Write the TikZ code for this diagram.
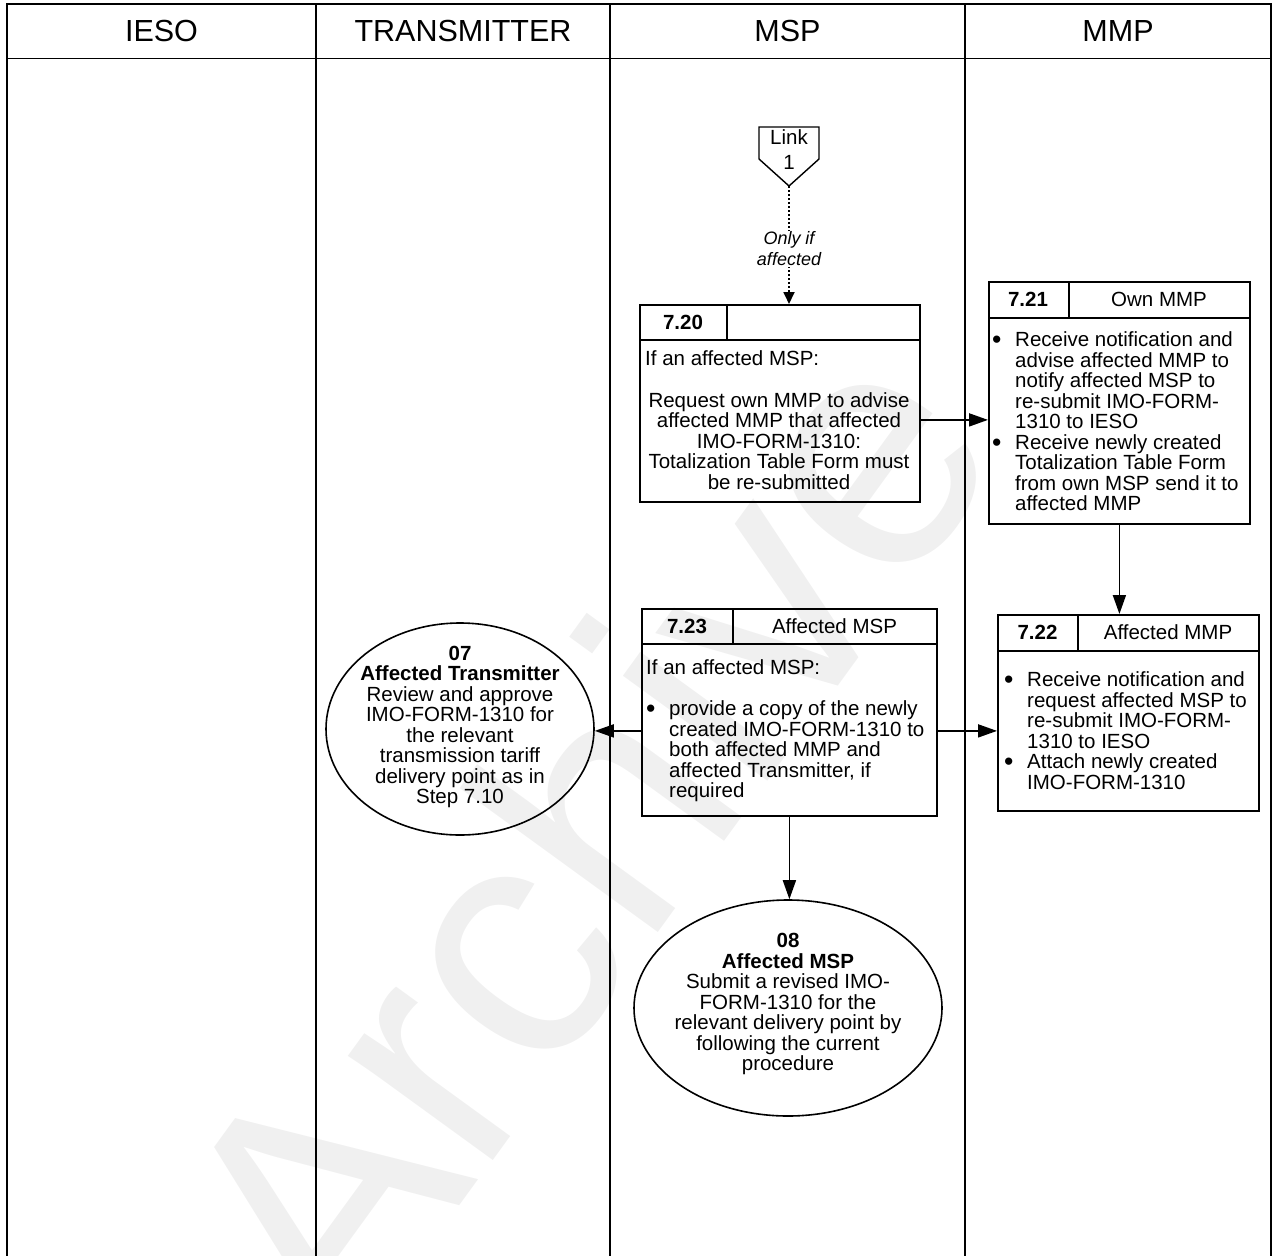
\documentclass[tikz,border=0pt]{standalone}
\usepackage{fontspec}
\setmainfont{Liberation Sans}
\usetikzlibrary{arrows.meta,shapes.geometric}
\newcommand{\bodyfont}{\fontsize{20.5}{20.5}\selectfont}
\newcommand{\bu}{\makebox[23pt][l]{\raisebox{-2pt}{\scalebox{1.3}{\textbullet}}}}
\newcommand{\ind}{\hspace*{23pt}}
\begin{document}
\begin{tikzpicture}[x=1pt,y=-1pt,
  lane/.style={line width=1.9pt},
  lanehead/.style={font=\fontsize{30.5}{30.5}\selectfont, inner sep=0pt},
  stepbox/.style={draw, line width=1.8pt, anchor=north west, inner sep=0pt},
  cell/.style={line width=1.8pt},
  hd/.style={font=\bodyfont, inner sep=0pt},
  txt/.style={font=\bodyfont, inner sep=0pt},
  term/.style={draw, ellipse, line width=1.6pt, inner sep=0pt},
  arr/.style={line width=1.8pt, -{Triangle[length=19pt,width=13pt]}},
  darr/.style={line width=1.8pt, dash pattern=on 2pt off 2pt, -{Triangle[length=12pt,width=11pt]}},
  wmark/.style={text=black!6, font=\fontsize{338}{338}\selectfont, inner sep=0pt}]
\useasboundingbox (0,0) rectangle (1279,1255);
% watermark
\node[wmark, rotate=54] (wm) at (580,835) {Archive};
% swimlanes
\draw[lane] (7,1257) -- (7,4) -- (1271,4) -- (1271,1257);
\draw[lane] (7,58.5) -- (1271,58.5);
\draw[lane] (316,4) -- (316,1257);
\draw[lane] (610,4) -- (610,1257);
\draw[lane] (965,4) -- (965,1257);
\node[lanehead] (hIESO) at (161.5,31) {IESO};
\node[lanehead] (hTR) at (463,31) {TRANSMITTER};
\node[lanehead] (hMSP) at (787.5,31) {MSP};
\node[lanehead] (hMMP) at (1118,31) {MMP};
% Link 1
\coordinate (linktip) at (789,186);
\draw[line width=1.4pt] (759,127) -- (819,127) -- (819,159) -- (linktip) -- (759,159) -- cycle;
\node[align=center, font=\fontsize{20.5}{25}\selectfont, inner sep=0pt] (linkt) at (789,149.5) {Link\\1};
% 7.20
\node[stepbox, minimum width=280pt, minimum height=197pt] (b720) at (639,304) {};
\draw[cell] ([yshift=-36pt]b720.north west) -- ([yshift=-36pt]b720.north east);
\draw[cell] ([xshift=88pt]b720.north west) -- ([xshift=88pt,yshift=-36pt]b720.north west);
\node[hd] (h720) at (683,322) {\textbf{7.20}};
\node[txt, anchor=west] (t720a) at (645,358) {If an affected MSP:};
\node[txt, align=center] (t720b) at (779,441) {Request own MMP to advise\\affected MMP that affected\\IMO-FORM-1310:\\Totalization Table Form must\\be re-submitted};
% 7.21
\node[stepbox, minimum width=261pt, minimum height=242pt] (b721) at (988,281) {};
\draw[cell] ([yshift=-37pt]b721.north west) -- ([yshift=-37pt]b721.north east);
\draw[cell] ([xshift=81pt]b721.north west) -- ([xshift=81pt,yshift=-37pt]b721.north west);
\node[hd] (h721) at (1028,299.5) {\textbf{7.21}};
\node[hd] (h721b) at (1159,299.5) {Own MMP};
\node[txt, align=left, anchor=west] (t721) at (992,421.5) {\bu Receive notification and\\\ind advise affected MMP to\\\ind notify affected MSP to\\\ind re-submit IMO-FORM-\\\ind 1310 to IESO\\\bu Receive newly created\\\ind Totalization Table Form\\\ind from own MSP send it to\\\ind affected MMP};
% 7.22
\node[stepbox, minimum width=261pt, minimum height=196pt] (b722) at (997,614) {};
\draw[cell] ([yshift=-37pt]b722.north west) -- ([yshift=-37pt]b722.north east);
\draw[cell] ([xshift=81pt]b722.north west) -- ([xshift=81pt,yshift=-37pt]b722.north west);
\node[hd] (h722) at (1037.5,632.5) {\textbf{7.22}};
\node[hd] (h722b) at (1168,632.5) {Affected MMP};
\node[txt, align=left, anchor=west] (t722) at (1004,730.5) {\bu Receive notification and\\\ind request affected MSP to\\\ind re-submit IMO-FORM-\\\ind 1310 to IESO\\\bu Attach newly created\\\ind IMO-FORM-1310};
% 7.23
\node[stepbox, minimum width=295pt, minimum height=207pt] (b723) at (641,608) {};
\draw[cell] ([yshift=-36pt]b723.north west) -- ([yshift=-36pt]b723.north east);
\draw[cell] ([xshift=92pt]b723.north west) -- ([xshift=92pt,yshift=-36pt]b723.north west);
\node[hd] (h723) at (687,626) {\textbf{7.23}};
\node[hd] (h723b) at (834.5,626) {Affected MSP};
\node[txt, align=left, anchor=west] (t723) at (646,731) {If an affected MSP:\\[20.5pt]\bu provide a copy of the newly\\\ind created IMO-FORM-1310 to\\\ind both affected MMP and\\\ind affected Transmitter, if\\\ind required};
% terminators
\node[term, minimum width=268pt, minimum height=212pt] (e07) at (460,729) {};
\node[txt, align=center] (t07) at (460,727) {\textbf{07}\\\textbf{Affected Transmitter}\\Review and approve\\IMO-FORM-1310 for\\the relevant\\transmission tariff\\delivery point as in\\Step 7.10};
\node[term, minimum width=308pt, minimum height=216pt] (e08) at (788,1008) {};
\node[txt, align=center] (t08) at (788,1004) {\textbf{08}\\\textbf{Affected MSP}\\Submit a revised IMO-\\FORM-1310 for the\\relevant delivery point by\\following the current\\procedure};
% connectors
\draw[darr] (linktip) -- (linktip |- b720.north);
\node[align=center, font=\fontsize{18}{21}\selectfont\itshape, fill=white, inner sep=1pt] (lbl) at (789,249) {Only if\\affected};
\draw[arr] ([yshift=-16.5pt]b720.east) -- ([yshift=-16.5pt]b720.east -| b721.west);
\draw[arr] (b721.south) -- (b721.south |- b722.north);
\draw[arr] ([yshift=-18.5pt]b723.east) -- ([yshift=-18.5pt]b723.east -| b722.west);
\draw[arr] ([yshift=-18.5pt]b723.west) -- ([yshift=-18.5pt]b723.west -| e07.east);
\draw[arr] (b723.south) -- (b723.south |- e08.north);
\end{tikzpicture}
\end{document}
